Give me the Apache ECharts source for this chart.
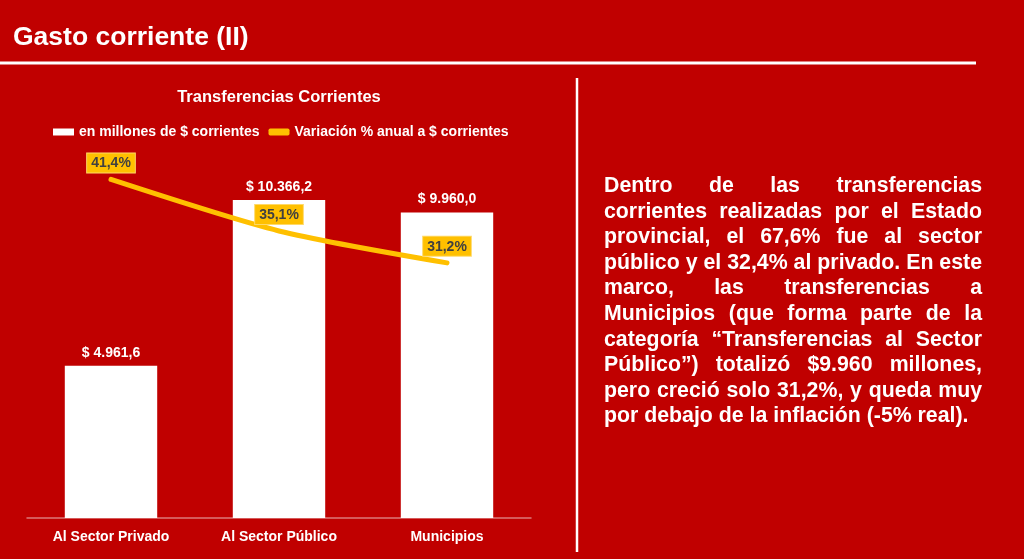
<!DOCTYPE html>
<html>
<head>
<meta charset="utf-8">
<script src="https://cdn.jsdelivr.net/npm/echarts@6/dist/echarts.min.js"></script>
<style>
    html, body { margin:0; padding:0; background:#c00000; }
    #main { position:absolute; left:0; top:0; width:1024px; height:559px; }
    #texto {
        position:absolute; left:604px; top:173px; width:378px;
        font-family:'Liberation Sans', Arial, sans-serif; font-weight:bold;
        font-size:21.3px; line-height:25.6px; color:#fff;
    }
    #texto div { text-align:justify; text-align-last:justify; white-space:nowrap; }
    #texto div.ult { text-align-last:left; }
</style>
</head>
<body>
<div id="main"></div>
<div id="texto">
    <div>Dentro de las transferencias</div>
    <div>corrientes realizadas por el Estado</div>
    <div>provincial, el 67,6% fue al sector</div>
    <div>público y el 32,4% al privado. En este</div>
    <div>marco, las transferencias a</div>
    <div>Municipios (que forma parte de la</div>
    <div>categoría “Transferencias al Sector</div>
    <div>Público”) totalizó $9.960 millones,</div>
    <div>pero creció solo 31,2%, y queda muy</div>
    <div class="ult">por debajo de la inflación (-5% real).</div>
</div>
<script>
// datos
var categorias = ['Al Sector Privado', 'Al Sector Público', 'Municipios'];
var montos = [4961.6, 10366.2, 9960.0];        // en millones de $ corrientes
var variacion = [41.4, 35.1, 31.2];            // variación % anual

var fuente = 'Liberation Sans';

// 10366.2 -> "10.366,2"
function fmtNum(v) {
    var p = v.toFixed(1).split('.');
    p[0] = p[0].replace(/\B(?=(\d{3})+(?!\d))/g, '.');
    return p[0] + ',' + p[1];
}

var chart = echarts.init(document.getElementById('main'));
var option = {
    backgroundColor: '#c00000',
    animation: false,
    textStyle: { fontFamily: fuente },
    legend: {
        left: 48,
        top: 120,
        itemWidth: 21,
        itemHeight: 7,
        itemGap: 9,
        textStyle: { color: '#fff', fontSize: 14, fontWeight: 'bold', fontFamily: fuente },
        data: [
            { name: 'en millones de $ corrientes', icon: 'rect' },
            { name: 'Variación % anual a $ corrientes', icon: 'roundRect' }
        ]
    },
    grid: { left: 27, right: 493, top: 150, bottom: 41 },
    xAxis: {
        type: 'category',
        data: categorias,
        axisLine: { lineStyle: { color: '#dc7878', width: 1.5 } },
        axisTick: { show: false },
        axisLabel: { color: '#fff', fontSize: 14, fontWeight: 'bold', margin: 12, fontFamily: fuente }
    },
    yAxis: [
        { type: 'value', min: 0, max: 12000, show: false, splitLine: { show: false } },
        { type: 'value', min: 0, max: 45, show: false, splitLine: { show: false } }
    ],
    series: [
        {
            name: 'en millones de $ corrientes',
            type: 'bar',
            data: montos,
            barWidth: '55%',
            itemStyle: { color: '#fff' },
            label: {
                show: true,
                position: 'top',
                distance: 6,
                color: '#fff',
                fontSize: 14,
                fontWeight: 'bold',
                fontFamily: fuente,
                formatter: function (p) { return '$ ' + fmtNum(p.value); }
            }
        },
        {
            name: 'Variación % anual a $ corrientes',
            type: 'line',
            yAxisIndex: 1,
            data: variacion,
            smooth: 0.25,
            symbol: 'circle',
            symbolSize: 0.01,
            showSymbol: true,
            lineStyle: { color: '#ffc000', width: 5, cap: 'round' },
            itemStyle: { color: '#ffc000' },
            z: 3,
            label: {
                show: true,
                position: 'top',
                distance: 7,
                color: '#404040',
                fontSize: 14,
                fontWeight: 'bold',
                fontFamily: fuente,
                backgroundColor: '#ffc000',
                borderColor: '#ffd966',
                borderWidth: 1,
                padding: [3, 4, 2, 4],
                formatter: function (p) { return p.value.toFixed(1).replace('.', ',') + '%'; }
            }
        }
    ],
    graphic: [
        {
            type: 'text',
            x: 13, y: 38,
            style: {
                text: 'Gasto corriente (II)',
                fill: '#fff',
                fontSize: 26.5,
                fontWeight: 'bold',
                fontFamily: fuente,
                verticalAlign: 'middle',
                shadowColor: 'rgba(0,0,0,0.45)',
                shadowBlur: 3,
                shadowOffsetX: 1,
                shadowOffsetY: 2
            }
        },
        {
            type: 'line',
            shape: { x1: 0, y1: 63, x2: 976, y2: 63 },
            style: { stroke: '#fff', lineWidth: 3 }
        },
        {
            type: 'line',
            shape: { x1: 577, y1: 78, x2: 577, y2: 552 },
            style: { stroke: '#fff', lineWidth: 2.5 }
        },
        {
            type: 'text',
            x: 279, y: 97,
            style: {
                text: 'Transferencias Corrientes',
                fill: '#fff',
                fontSize: 16.5,
                fontWeight: 'bold',
                fontFamily: fuente,
                align: 'center',
                verticalAlign: 'middle'
            }
        }
    ]
};
chart.setOption(option);
</script>
</body>
</html>
